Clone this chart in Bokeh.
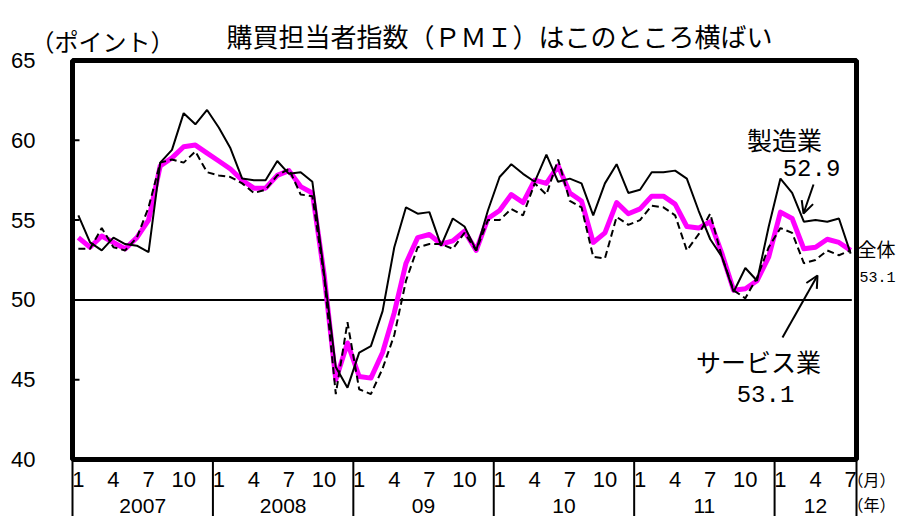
from bokeh.plotting import figure
from bokeh.models import Range1d, Arrow, OpenHead
from bokeh.core.properties import value
from bokeh.embed import file_html
from bokeh.resources import INLINE

# ---- data (monthly, 2007/1 - 2012/7) ----
years = ["2007", "2008", "09", "10", "11", "12"]
months = [m for _ in range(5) for m in range(1, 13)] + list(range(1, 8))
month_ticks = [1, 4, 7, 10]
y_ticks = [40, 45, 50, 55, 60, 65]

manufacturing = [55.3, 53.6, 53.1, 53.9, 53.5, 53.4, 53.0, 58.6, 59.4, 61.7, 61.0, 61.9,
                 60.8, 59.5, 57.6, 57.5, 57.5, 58.7, 57.9, 58.0, 57.4, 51.7, 45.8, 44.5,
                 46.7, 47.1, 49.3, 53.3, 55.8, 55.4, 55.5, 53.4, 55.1, 54.6, 53.1, 55.6,
                 57.7, 58.5, 57.9, 57.4, 59.1, 57.4, 57.6, 57.3, 55.3, 57.3, 58.5, 56.7,
                 56.9, 58.0, 58.0, 58.1, 57.6, 55.6, 53.8, 52.7, 50.5, 52.0, 51.2, 54.6,
                 57.6, 56.7, 54.9, 55.0, 54.9, 55.1, 52.9]
overall = [53.9, 53.3, 54.0, 53.6, 53.2, 53.9, 55.0, 58.4, 58.9, 59.6, 59.7, 59.2,
           58.7, 58.2, 57.5, 57.0, 57.0, 57.8, 58.1, 57.1, 56.7, 51.6, 45.0, 47.3,
           45.2, 45.1, 46.7, 49.2, 52.3, 53.9, 54.1, 53.5, 53.7, 54.3, 53.1, 55.1,
           55.6, 56.6, 56.1, 57.5, 57.3, 58.4, 56.7, 56.2, 53.6, 54.2, 56.1, 55.4,
           55.7, 56.5, 56.5, 56.0, 54.6, 54.5, 54.9, 52.9, 50.6, 50.7, 51.2, 52.7,
           55.5, 55.1, 53.2, 53.3, 53.8, 53.6, 53.1]
services = [53.2, 53.2, 54.5, 53.3, 53.1, 53.9, 55.8, 58.6, 58.8, 58.6, 59.3, 58.0,
            57.8, 57.7, 57.3, 56.7, 56.9, 57.8, 58.2, 56.6, 56.5, 51.5, 44.1, 48.6,
            44.4, 44.1, 45.7, 47.8, 51.2, 53.3, 53.5, 53.5, 53.2, 54.2, 53.1, 55.0,
            55.0, 55.7, 55.3, 57.3, 56.6, 58.8, 56.2, 55.8, 52.7, 52.6, 55.2, 54.7,
            55.0, 55.9, 55.8, 55.3, 53.1, 54.1, 55.4, 52.7, 50.6, 50.1, 51.4, 53.3,
            54.5, 54.2, 52.3, 52.5, 53.1, 52.8, 53.1]

# ---- geometry ----
W, H = 896, 516
FL, FR, FT, FB = 72, 856, 60, 459   # frame box inside the canvas (px)
n = len(months)
x_lo, x_hi = -0.5, n - 0.5
y_lo, y_hi = y_ticks[0], y_ticks[-1]
sx = (FR - FL) / (x_hi - x_lo)
sy = (FB - FT) / (y_hi - y_lo)
xr = Range1d(x_lo - FL / sx, x_hi + (W - FR) / sx)
yr = Range1d(y_lo - (H - FB) / sy, y_hi + FT / sy)

def X(px):  # canvas pixel -> data x
    return x_lo + (px - FL) / sx

def Y(py):  # canvas pixel (from top) -> data y
    return y_hi - (py - FT) / sy

p = figure(width=W, height=H, x_range=xr, y_range=yr, output_backend="svg",
           toolbar_location=None, x_axis_location=None, y_axis_location=None,
           min_border=0, outline_line_color=None)
p.grid.visible = False
p.background_fill_color = "white"
p.border_fill_color = "white"

JP = value("Noto Sans CJK JP")
NUM = value("Liberation Sans")
MONO = value("Liberation Mono")

xs = list(range(n))

# reference line at 50
p.segment(x0=[x_lo], x1=[x_hi - 0.4], y0=[50], y1=[50], line_color="black", line_width=2)

# series
p.line(xs, overall, line_color="#FF00FF", line_width=5, line_join="round")
p.line(xs, services, line_color="black", line_width=2, line_dash="7 4")
p.line(xs, manufacturing, line_color="black", line_width=2)

# frame
p.quad(left=[x_lo], right=[x_hi], bottom=[y_lo], top=[y_hi], fill_color=None,
       line_color="black", line_width=5)

# y ticks (inside) and labels
inner = [t for t in y_ticks if y_lo < t < y_hi]
p.segment(x0=[x_lo] * len(inner), x1=[x_lo + 7 / sx] * len(inner), y0=inner, y1=inner,
          line_color="black", line_width=2)
p.text(x=[X(35)] * len(y_ticks), y=y_ticks, text=[str(t) for t in y_ticks],
       text_font=NUM, text_font_size="22px", text_align="right", text_baseline="middle",
       text_color="black")

# month labels
mx = [i for i, m in enumerate(months) if m in month_ticks]
p.text(x=mx, y=[Y(479)] * len(mx), text=[str(months[i]) for i in mx],
       text_font=NUM, text_font_size="22px", text_align="center", text_baseline="middle",
       text_color="black")

# year separators and labels
starts = [i for i, m in enumerate(months) if m == 1]
bounds = [s - 0.5 for s in starts] + [n - 0.5]
p.segment(x0=bounds, x1=bounds, y0=[y_lo] * len(bounds), y1=[yr.start] * len(bounds),
          line_color="black", line_width=2)
centers = [(bounds[k] + bounds[k + 1]) / 2 for k in range(len(years))]
p.text(x=centers, y=[Y(505)] * len(years), text=years,
       text_font=NUM, text_font_size="21px", text_align="center", text_baseline="middle",
       text_color="black")
p.text(x=[X(895), X(895)], y=[Y(478), Y(503)], text=["（月）", "（年）"],
       text_font=JP, text_font_size="16px", text_align="right", text_baseline="middle",
       text_color="black")

# title and unit
p.text(x=[X(499)], y=[Y(35)], text=["購買担当者指数（ＰＭＩ）はこのところ横ばい"],
       text_font=JP, text_font_size="26px", text_align="center", text_baseline="middle",
       text_color="black")
p.text(x=[X(102)], y=[Y(40)], text=["（ポイント）"],
       text_font=JP, text_font_size="24px", text_align="center", text_baseline="middle",
       text_color="black")

# annotations
p.text(x=[X(784), X(758)], y=[Y(138), Y(360)], text=["製造業", "サービス業"],
       text_font=JP, text_font_size="25px", text_align="center", text_baseline="middle",
       text_color="black")
p.text(x=[X(895)], y=[Y(248)], text=["全体"],
       text_font=JP, text_font_size="19px", text_align="right", text_baseline="middle",
       text_color="black")
p.text(x=[X(811), X(765)], y=[Y(167), Y(393)],
       text=[f"{manufacturing[-1]:.1f}", f"{services[-1]:.1f}"],
       text_font=MONO, text_font_size="24px", text_align="center", text_baseline="middle",
       text_color="black")
p.text(x=[X(895)], y=[Y(276)], text=[f"{overall[-1]:.1f}"],
       text_font=MONO, text_font_size="15px", text_align="right", text_baseline="middle",
       text_color="black")

p.add_layout(Arrow(end=OpenHead(size=12, line_width=2, line_color="black"),
                   x_start=X(813), y_start=Y(184), x_end=X(803), y_end=Y(213),
                   line_width=2, line_color="black"))
p.add_layout(Arrow(end=OpenHead(size=12, line_width=2, line_color="black"),
                   x_start=X(782), y_start=Y(337), x_end=X(817), y_end=Y(275),
                   line_width=2, line_color="black"))

open("out.html", "w").write(file_html(p, INLINE))
